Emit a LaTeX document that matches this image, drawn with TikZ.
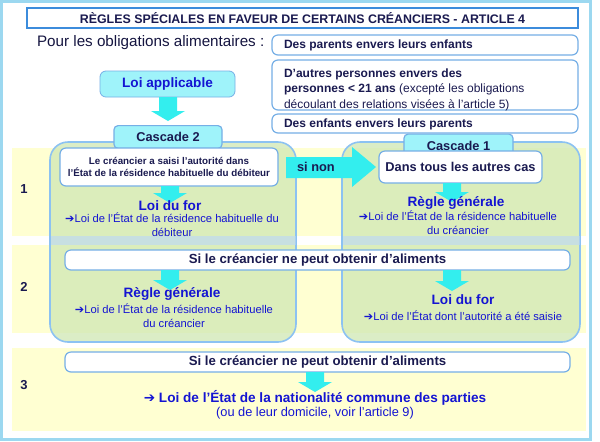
\documentclass[tikz,border=0pt]{standalone}
\usepackage{fontspec}
\setmainfont{Liberation Sans}
\newfontfamily\symfont{DejaVu Sans}
\usetikzlibrary{positioning}
\definecolor{CFrame}{HTML}{9CD8F0}
\definecolor{CTitle}{HTML}{3C8CDC}
\definecolor{CNavy}{HTML}{1A1A50}
\definecolor{CBlueText}{HTML}{1414D2}
\definecolor{CBand}{HTML}{FFFFD2}
\definecolor{CPanel}{HTML}{CFE8B4}
\definecolor{CCyan}{HTML}{33EEEE}
\definecolor{CTab}{HTML}{9FF3FA}
\newcommand{\thickarrow}{{\symfont ➔}}
\tikzset{
    catbox/.style={draw=CTitle!70, fill=white, rounded corners=3pt, line width=0.6pt},
    tabbox/.style={draw=CTitle!70, fill=CTab, rounded corners=2pt, line width=0.6pt,
        font=\bfseries\fontsize{6.4}{8}\selectfont, text=CNavy},
    panel/.style={draw=CFrame!90!blue, fill=CPanel, fill opacity=0.75, rounded corners=9pt, line width=0.8pt},
    band/.style={fill=CBand},
    bluetext/.style={text=CBlueText, align=center, font=\fontsize{5.6}{7}\selectfont},
    bluehead/.style={text=CBlueText, font=\bfseries\fontsize{6.8}{8}\selectfont},
    navytext/.style={text=CNavy, font=\bfseries\fontsize{6}{7}\selectfont},
    rownum/.style={text=CNavy, font=\bfseries\fontsize{6.5}{8}\selectfont}
}
% block arrow pointing down: x, top y, bottom y
\newcommand{\downblock}[3]{%
  \fill[CCyan] (#1-9,#2) -- (#1+9,#2) -- (#1+9,#3-10) -- (#1+17,#3-10) -- (#1,#3) -- (#1-17,#3-10) -- (#1-9,#3-10) -- cycle;}
\begin{document}
\begin{tikzpicture}[x=0.5pt, y=-0.5pt]
    \useasboundingbox (0,0) rectangle (600,441);
    \fill[white] (0,0) rectangle (600,441);
    \draw[CFrame, line width=1.5pt] (1,1) rectangle (590,439);

    % Title
    \node[draw=CTitle, line width=1pt, minimum width=275.5pt, minimum height=10pt, inner sep=0pt,
          text=CNavy, font=\bfseries\fontsize{6.2}{8}\selectfont] (title) at (302.5,18)
          {RÈGLES SPÉCIALES EN FAVEUR DE CERTAINS CRÉANCIERS - ARTICLE 4};

    % Categories
    \node[anchor=west, text=CNavy!80!black, font=\fontsize{7.6}{9}\selectfont] (pour) at (30,43) {Pour les obligations alimentaires :};
    \draw[catbox] (272,35) rectangle (578,55);
    \node[navytext, anchor=west] (cat1) at (277,45) {Des parents envers leurs enfants};
    \draw[catbox] (272,60) rectangle (578,110);
    \node[anchor=north west, align=left, text=CNavy, font=\fontsize{6}{7.6}\selectfont] (cat2) at (277,62)
        {\textbf{D’autres personnes envers des}\\\textbf{personnes < 21 ans} (excepté les obligations\\découlant des relations visées à l’article 5)};
    \draw[catbox] (272,114) rectangle (578,133);
    \node[navytext, anchor=west] (cat3) at (277,124) {Des enfants envers leurs parents};

    % Loi applicable
    \node[draw=CTitle!70, fill=CTab, rounded corners=3pt, minimum width=67.5pt, minimum height=12pt,
          text=CBlueText, font=\bfseries\fontsize{6.8}{8}\selectfont] (loi) at (167.5,84) {Loi applicable};
    \downblock{168}{97}{121}

    % Row bands
    \fill[band] (12,148) rectangle (586,236);
    \fill[band] (12,245) rectangle (586,333);
    \fill[band] (12,348) rectangle (586,431);
    \node[rownum] (r1) at (24,189) {1};
    \node[rownum] (r2) at (24,287) {2};
    \node[rownum] (r3) at (24,385) {3};

    % Panels
    \draw[panel] (50,142) rectangle (296,342);
    \draw[panel] (342,142) rectangle (580,342);
    \fill[CTitle!35, opacity=0.6] (50.5,236) rectangle (295.5,245);
    \fill[CTitle!35, opacity=0.6] (342.5,236) rectangle (579.5,245);
    \node[tabbox, minimum width=54pt, minimum height=9pt] (casc2) at (168,137) {Cascade 2};
    \node[tabbox, minimum width=54.5pt, minimum height=8.5pt] (casc1) at (458.5,145.5) {Cascade 1};

    % Row 1
    \draw[catbox] (60,148) rectangle (278,186);
    \node[align=center, text=CNavy, font=\bfseries\fontsize{4.9}{6.4}\selectfont] (saisi) at (169,167)
        {Le créancier a saisi l'autorité dans\\l'État de la résidence habituelle du débiteur};
    \draw[catbox] (379,151) rectangle (542,183);
    \node[text=CNavy, font=\bfseries\fontsize{6.4}{8}\selectfont] (autres) at (460.5,167) {Dans tous les autres cas};
    \fill[CCyan] (286,157) -- (352,157) -- (352,147) -- (376,167) -- (352,187) -- (352,178) -- (286,178) -- cycle;
    \node[anchor=west, text=CNavy, font=\bfseries\fontsize{6.4}{8}\selectfont] (sinon) at (290,167) {si non};
    \downblock{170}{186}{203}
    \downblock{452}{183}{202}
    \node[bluehead] (for1) at (170,206) {Loi du for};
    \node[bluetext] (for1t) at (172,225) {\thickarrow Loi de l'État de la résidence habituelle du\\débiteur};
    \node[bluehead] (gen1) at (456,203) {Règle générale};
    \node[bluetext] (gen1t) at (458,223) {\thickarrow Loi de l'État de la résidence habituelle\\du créancier};

    % Row 2
    \draw[catbox] (65,250) rectangle (570,270);
    \node[navytext, font=\bfseries\fontsize{6.6}{8}\selectfont] (nonobt2) at (317.5,260) {Si le créancier ne peut obtenir d’aliments};
    \downblock{170}{270}{290}
    \downblock{452}{270}{291}
    \node[bluehead] (gen2) at (172,294) {Règle générale};
    \node[bluetext] (gen2t) at (174,316) {\thickarrow Loi de l'État de la résidence habituelle\\du créancier};
    \node[bluehead] (for2) at (463,300) {Loi du for};
    \node[bluetext] (for2t) at (463,316) {\thickarrow Loi de l'État dont l'autorité a été saisie};

    % Row 3
    \draw[catbox] (65,352) rectangle (570,372);
    \node[navytext, font=\bfseries\fontsize{6.6}{8}\selectfont] (nonobt3) at (317.5,362) {Si le créancier ne peut obtenir d’aliments};
    \downblock{315}{372}{392}
    \node[text=CBlueText, font=\bfseries\fontsize{6.8}{8}\selectfont] (nat) at (315,398)
        {\thickarrow{} Loi de l’État de la nationalité commune des parties};
    \node[text=CBlueText, font=\fontsize{6.4}{8}\selectfont] (dom) at (315,413) {(ou de leur domicile, voir l’article 9)};
\end{tikzpicture}
\end{document}
